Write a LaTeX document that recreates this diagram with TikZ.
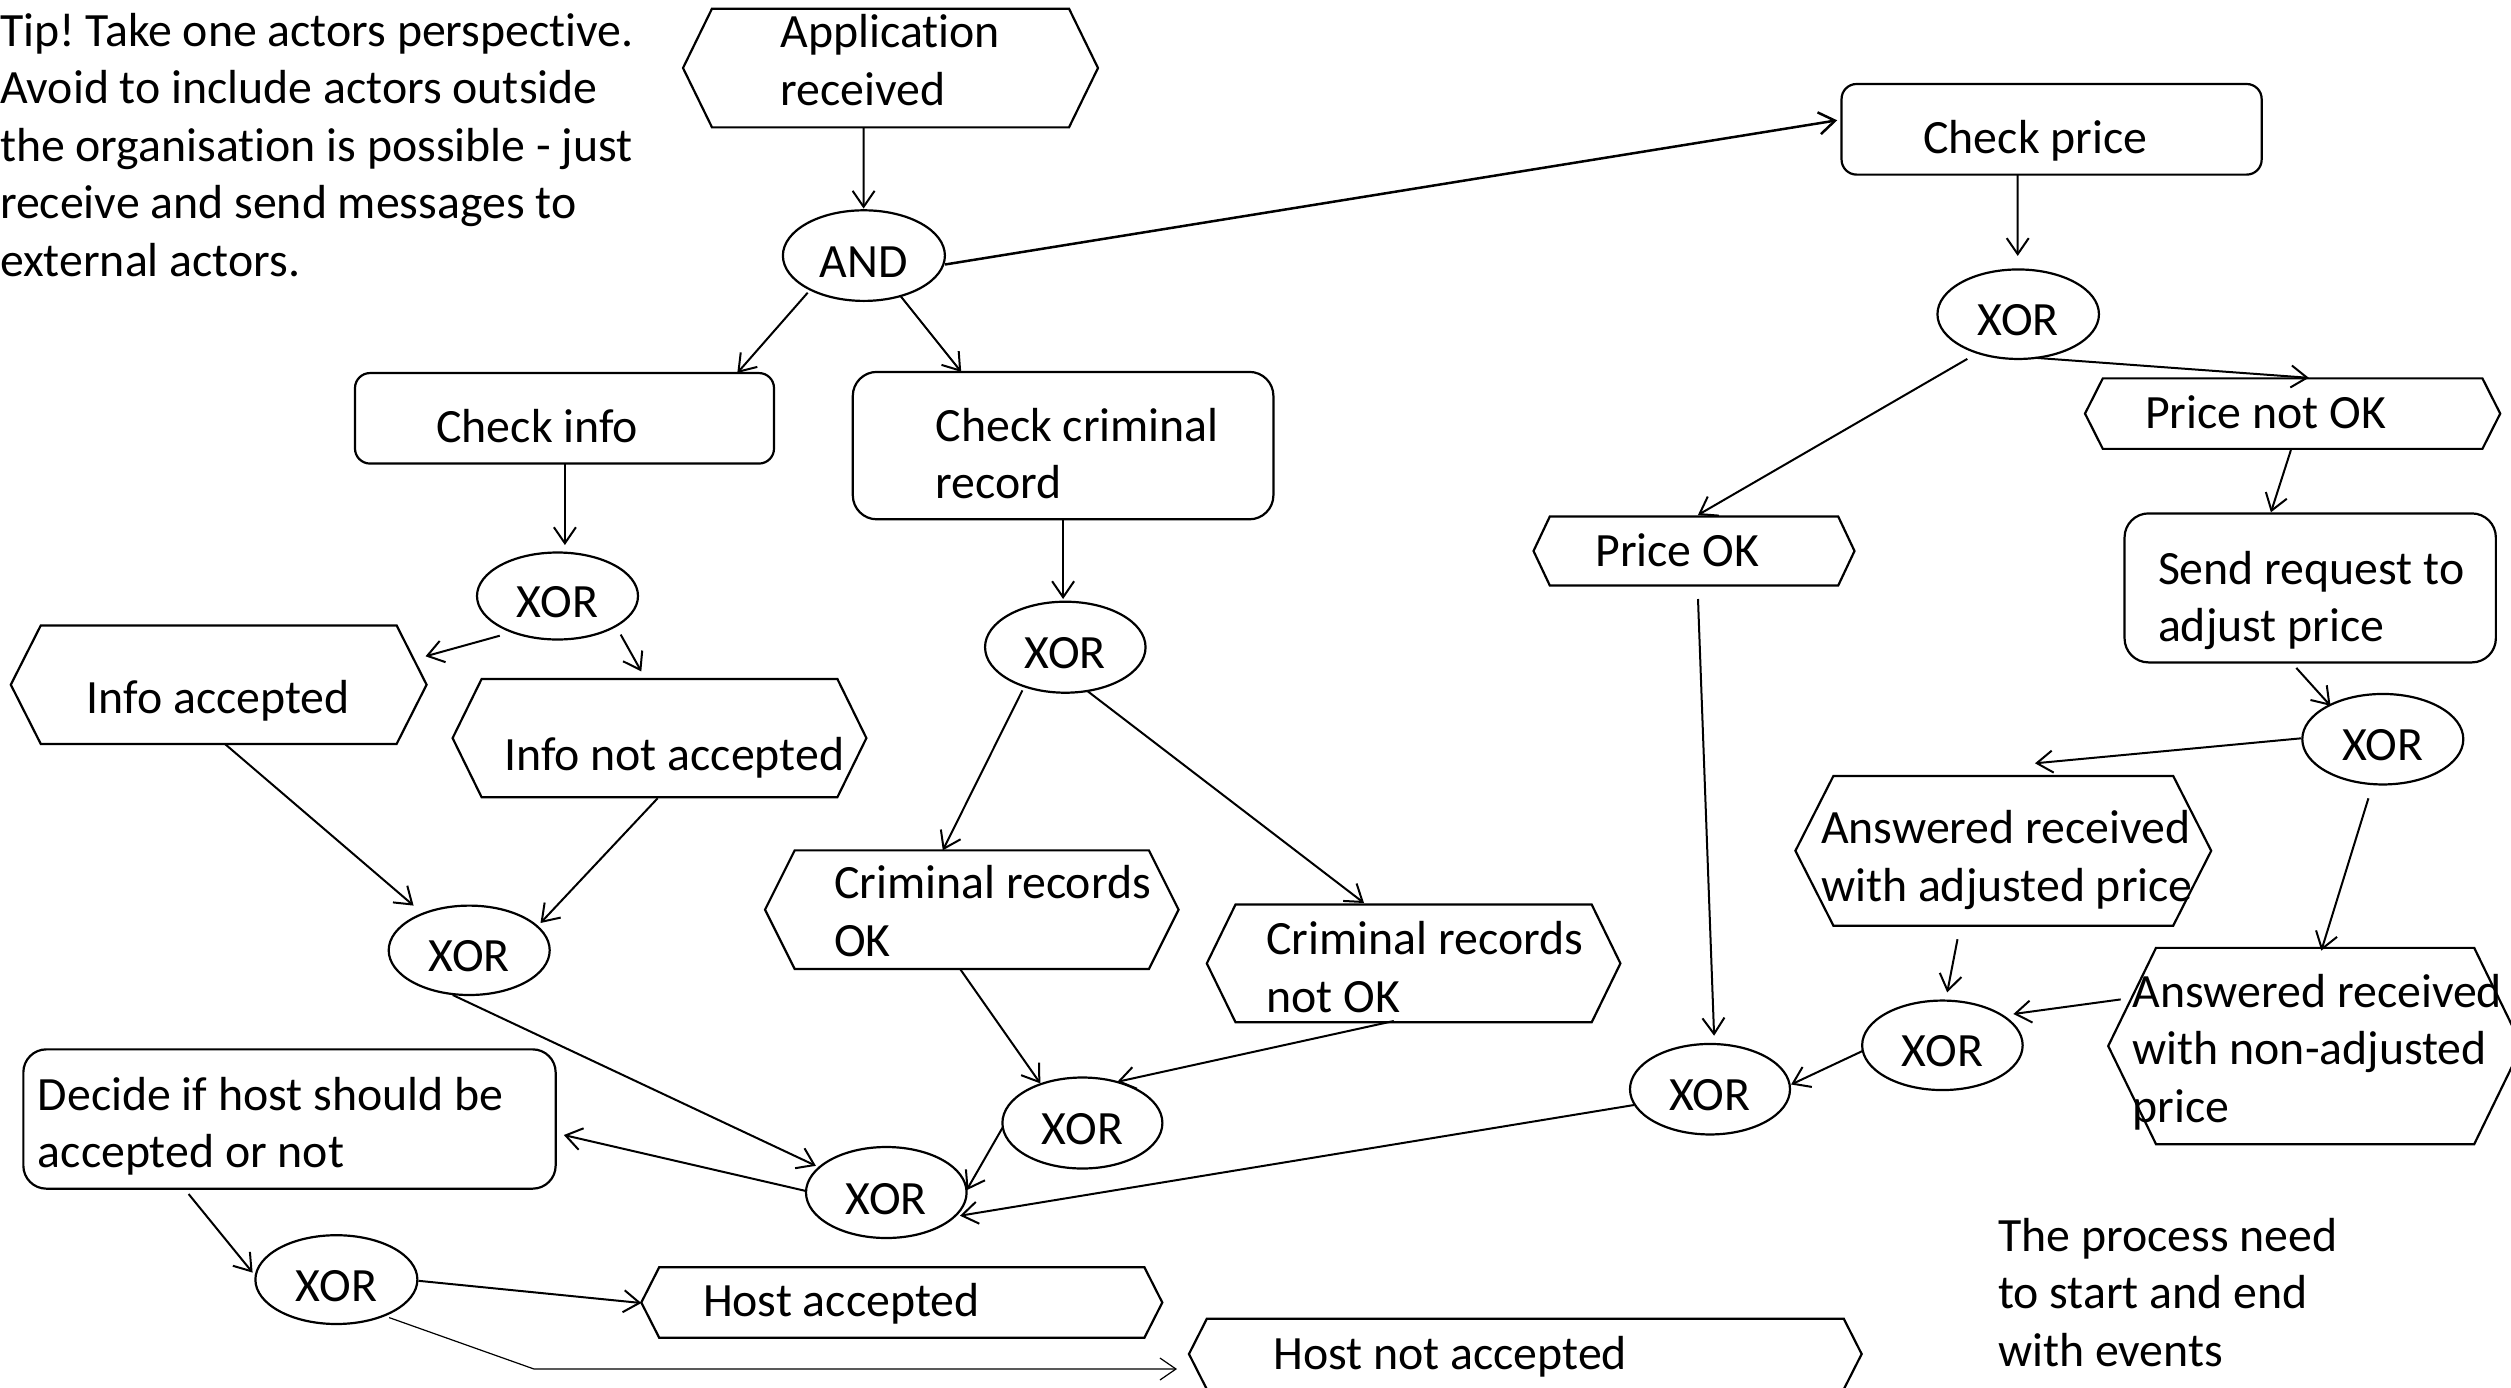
\documentclass[tikz,border=0pt]{standalone}
\usepackage{fontspec}
\setmainfont{Carlito}[Ligatures=NoCommon]
\usetikzlibrary{arrows.meta,shapes.geometric}
\frenchspacing

% Text block whose first baseline starts at (#1,#2) from the node centre
\newcommand\placetext[3]{\raisebox{\dimexpr#2pt-3pt\relax}[0pt][0pt]{\makebox[0pt][l]{\hspace*{#1pt}\begin{tabular}[t]{@{}l@{}}#3\end{tabular}}}}
% Gate label, set slightly below the centre of the ellipse
\newcommand\gatetext[1]{\raisebox{-21.5pt}[0pt][0pt]{\makebox[0pt]{#1}}}

\begin{document}
\begin{tikzpicture}[x=1pt,y=-1pt,
  font=\fontsize{47.8}{57.5}\selectfont,
  base/.style={inner sep=0pt, outer sep=0pt, line width=2.2pt},
  gate/.style={base, ellipse, draw},
  task/.style={base, rectangle, draw, rounded corners=#1},
  hexa/.style={base, rectangle, append after command={\pgfextra{\draw[line width=2.2pt]
     (\tikzlastnode.west) -- ([xshift=#1pt]\tikzlastnode.north west)
     -- ([xshift=-#1pt]\tikzlastnode.north east) -- (\tikzlastnode.east)
     -- ([xshift=-#1pt]\tikzlastnode.south east) -- ([xshift=#1pt]\tikzlastnode.south west) -- cycle;}}},
  flow/.style={line width=2pt, -{Straight Barb[length=16pt,width=22pt]}},
  thin flow/.style={flow, line width=1.2pt},
]
\fill[white] (0,0) rectangle (2511,1387);
\useasboundingbox (0,0) rectangle (2511,1387);

% notes
\node[base] (tip) at (0,43.4) {\placetext{0}{0}{Tip! Take one actors perspective.\\Avoid to include actors outside\\the organisation is possible - just\\receive and send messages to\\external actors.}};
\node[base] (note) at (1998.2,1248.2) {\placetext{0}{0}{The process need\\to start and end\\with events}};

% events
\node[hexa=29, minimum width=415pt, minimum height=118.7pt] (app) at (890.5,68) {\placetext{-109.9}{23.5}{Application\\received}};
\node[hexa=30, minimum width=415.8pt, minimum height=118.6pt] (infoacc) at (218.7,684.7) {\placetext{-132}{-25.8}{Info accepted}};
\node[hexa=29, minimum width=413.8pt, minimum height=118.2pt] (infonot) at (659.5,738.1) {\placetext{-155.3}{-29.3}{Info not accepted}};
\node[hexa=29.7, minimum width=413.6pt, minimum height=118.7pt] (crimok) at (971.8,909.7) {\placetext{-137.5}{13.8}{Criminal records\\OK}};
\node[hexa=28.7, minimum width=413.6pt, minimum height=117.7pt] (crimnot) at (1413.6,963.4) {\placetext{-147.2}{11.7}{Criminal records\\not OK}};
\node[hexa=17.9, minimum width=521pt, minimum height=70.5pt] (hostacc) at (901.8,1302.5) {\placetext{-198.8}{-11.3}{Host accepted}};
\node[hexa=17.9, minimum width=672.7pt, minimum height=70.6pt] (hostnot) at (1525.3,1354) {\placetext{-251.9}{-12.4}{Host not accepted}};
\node[hexa=16.3, minimum width=321pt, minimum height=69pt] (priceok) at (1694,551) {\placetext{-98.6}{-12.8}{Price OK}};
\node[hexa=17.8, minimum width=415.2pt, minimum height=70.5pt] (pricenot) at (2292.6,413.6) {\placetext{-147.5}{-11.9}{Price not OK}};
\node[hexa=38, minimum width=415.8pt, minimum height=149.7pt] (ansadj) at (2003.3,850.8) {\placetext{-182.3}{10.2}{Answered received\\with adjusted price}};
\node[hexa=47.8, minimum width=413.8pt, minimum height=196.3pt] (ansnon) at (2315.1,1046) {\placetext{-182.5}{41.7}{Answered received\\with non-adjusted\\price}};

% functions
\node[task=15pt, minimum width=419pt, minimum height=90.5pt] (checkinfo) at (564.5,418.3) {\placetext{-128.1}{-20.7}{Check info}};
\node[task=24pt, minimum width=420.6pt, minimum height=147.4pt] (checkcrim) at (1063.1,445.6) {\placetext{-127.4}{7.6}{Check criminal\\record}};
\node[task=23pt, minimum width=532.3pt, minimum height=139.3pt] (decide) at (289.5,1119) {\placetext{-251.6}{11.7}{Decide if host should be\\accepted or not}};
\node[task=15pt, minimum width=420.1pt, minimum height=90.6pt] (checkprice) at (2051.6,129.3) {\placetext{-128.2}{-21.4}{Check price}};
\node[task=24pt, minimum width=371.3pt, minimum height=149pt] (sendreq) at (2310.2,587.9) {\placetext{-152.2}{6.8}{Send request to\\adjust price}};

% connectors
\node[gate, minimum width=162pt, minimum height=90.6pt] (and) at (863.9,255.6) {\gatetext{AND}};
\node[gate, minimum width=161pt, minimum height=87pt] (xorA) at (557.5,596) {\gatetext{XOR}};
\node[gate, minimum width=161pt, minimum height=89.4pt] (xorB) at (469.2,950.3) {\gatetext{XOR}};
\node[gate, minimum width=160.5pt, minimum height=91pt] (xorC) at (1065.3,647.2) {\gatetext{XOR}};
\node[gate, minimum width=160pt, minimum height=91pt] (xorD) at (1082.4,1123) {\gatetext{XOR}};
\node[gate, minimum width=160.6pt, minimum height=91pt] (xorE) at (886.3,1192.5) {\gatetext{XOR}};
\node[gate, minimum width=162pt, minimum height=88.8pt] (xorF) at (336.4,1279.6) {\gatetext{XOR}};
\node[gate, minimum width=160pt, minimum height=90.5pt] (xorG) at (1710,1089.2) {\gatetext{XOR}};
\node[gate, minimum width=161.5pt, minimum height=89.5pt] (xorP1) at (2018.2,314.2) {\gatetext{XOR}};
\node[gate, minimum width=161pt, minimum height=90.5pt] (xorP2) at (2382.8,739.2) {\gatetext{XOR}};
\node[gate, minimum width=160.5pt, minimum height=89.5pt] (xorP3) at (1942.4,1045.3) {\gatetext{XOR}};

\coordinate (hostbend) at (534,1369);

% control flow
\draw[flow] ([shift={(-26.9,60)}]app.center) -- ([shift={(-0.3,-47)}]and.center);
\draw[flow] ([shift={(-56.2,37.1)}]and.center) -- ([shift={(172.8,-45.3)}]checkinfo.center);
\draw[flow] ([shift={(36.6,40.4)}]and.center) -- ([shift={(-101.9,-73.7)}]checkcrim.center);
\draw[flow, line width=2.5pt] ([shift={(81.1,8.9)}]and.center) -- ([shift={(-214.4,-9)}]checkprice.center);

\draw[flow] ([shift={(0.4,45.2)}]checkinfo.center) -- ([shift={(7.4,-51)}]xorA.center);
\draw[flow] ([shift={(-57.7,39.7)}]xorA.center) -- ([shift={(206.8,-28.4)}]infoacc.center);
\draw[flow] ([shift={(63.2,38.6)}]xorA.center) -- ([shift={(-18.2,-66.7)}]infonot.center);
\draw[flow] ([shift={(6.3,59.3)}]infoacc.center) -- ([shift={(-55.6,-44.7)}]xorB.center);
\draw[flow] ([shift={(-1.9,60.2)}]infonot.center) -- ([shift={(71.3,-27.3)}]xorB.center);
\draw[flow] ([shift={(-16.5,44.7)}]xorB.center) -- ([shift={(-70.4,-26.7)}]xorE.center);

\draw[flow] ([shift={(0,73.7)}]checkcrim.center) -- ([shift={(-2.2,-48.2)}]xorC.center);
\draw[flow] ([shift={(-42.9,43.2)}]xorC.center) -- ([shift={(-29,-59.4)}]crimok.center);
\draw[flow] ([shift={(22.7,44.3)}]xorC.center) -- ([shift={(-49.6,-60.4)}]crimnot.center);
\draw[flow] ([shift={(-11.7,59.3)}]crimok.center) -- ([shift={(-42.1,-39.6)}]xorD.center);
\draw[flow] ([shift={(-19.8,57.6)}]crimnot.center) -- ([shift={(34.9,-41.2)}]xorD.center);
\draw[flow] ([shift={(-80,4.9)}]xorD.center) -- ([shift={(80.3,-2.3)}]xorE.center);
\draw[flow] ([shift={(-76,15.8)}]xorG.center) -- ([shift={(73.7,23.2)}]xorE.center);

\draw[flow] ([shift={(-80.3,-1.5)}]xorE.center) -- ([shift={(274.3,16)}]decide.center);
\draw[flow] ([shift={(-100.9,75)}]decide.center) -- ([shift={(-83.8,-7)}]xorF.center);
\draw[flow] ([shift={(82.1,1.2)}]xorF.center) -- ([shift={(-260.5,0.5)}]hostacc.center);
\draw[thin flow] ([shift={(52.8,38)}]xorF.center) -- (hostbend) -- ([shift={(-348.3,15)}]hostnot.center);

\draw[flow] ([shift={(-33.9,45.3)}]checkprice.center) -- ([shift={(-0.5,-58.3)}]xorP1.center);
\draw[flow] ([shift={(-50.9,44.7)}]xorP1.center) -- ([shift={(3.9,-36)}]priceok.center);
\draw[flow] ([shift={(16.8,43.6)}]xorP1.center) -- ([shift={(16.2,-35.8)}]pricenot.center);
\draw[flow] ([shift={(4,48)}]priceok.center) -- ([shift={(4.1,-53.5)}]xorG.center);
\draw[flow] ([shift={(-1.7,36.4)}]pricenot.center) -- ([shift={(-39.3,-75.6)}]sendreq.center);
\draw[flow] ([shift={(-13.9,80)}]sendreq.center) -- ([shift={(-52.3,-33.4)}]xorP2.center);
\draw[flow] ([shift={(-81.6,-0.9)}]xorP2.center) -- ([shift={(31.7,-87.5)}]ansadj.center);
\draw[flow] ([shift={(-14.4,59.1)}]xorP2.center) -- ([shift={(6.2,-95.4)}]ansnon.center);
\draw[flow] ([shift={(-45.8,88.4)}]ansadj.center) -- ([shift={(4.8,-52.9)}]xorP3.center);
\draw[flow] ([shift={(-194.4,-46.6)}]ansnon.center) -- ([shift={(71,-31.3)}]xorP3.center);
\draw[flow] ([shift={(-79.7,5.6)}]xorP3.center) -- ([shift={(81.1,-4.7)}]xorG.center);
\end{tikzpicture}
\end{document}
